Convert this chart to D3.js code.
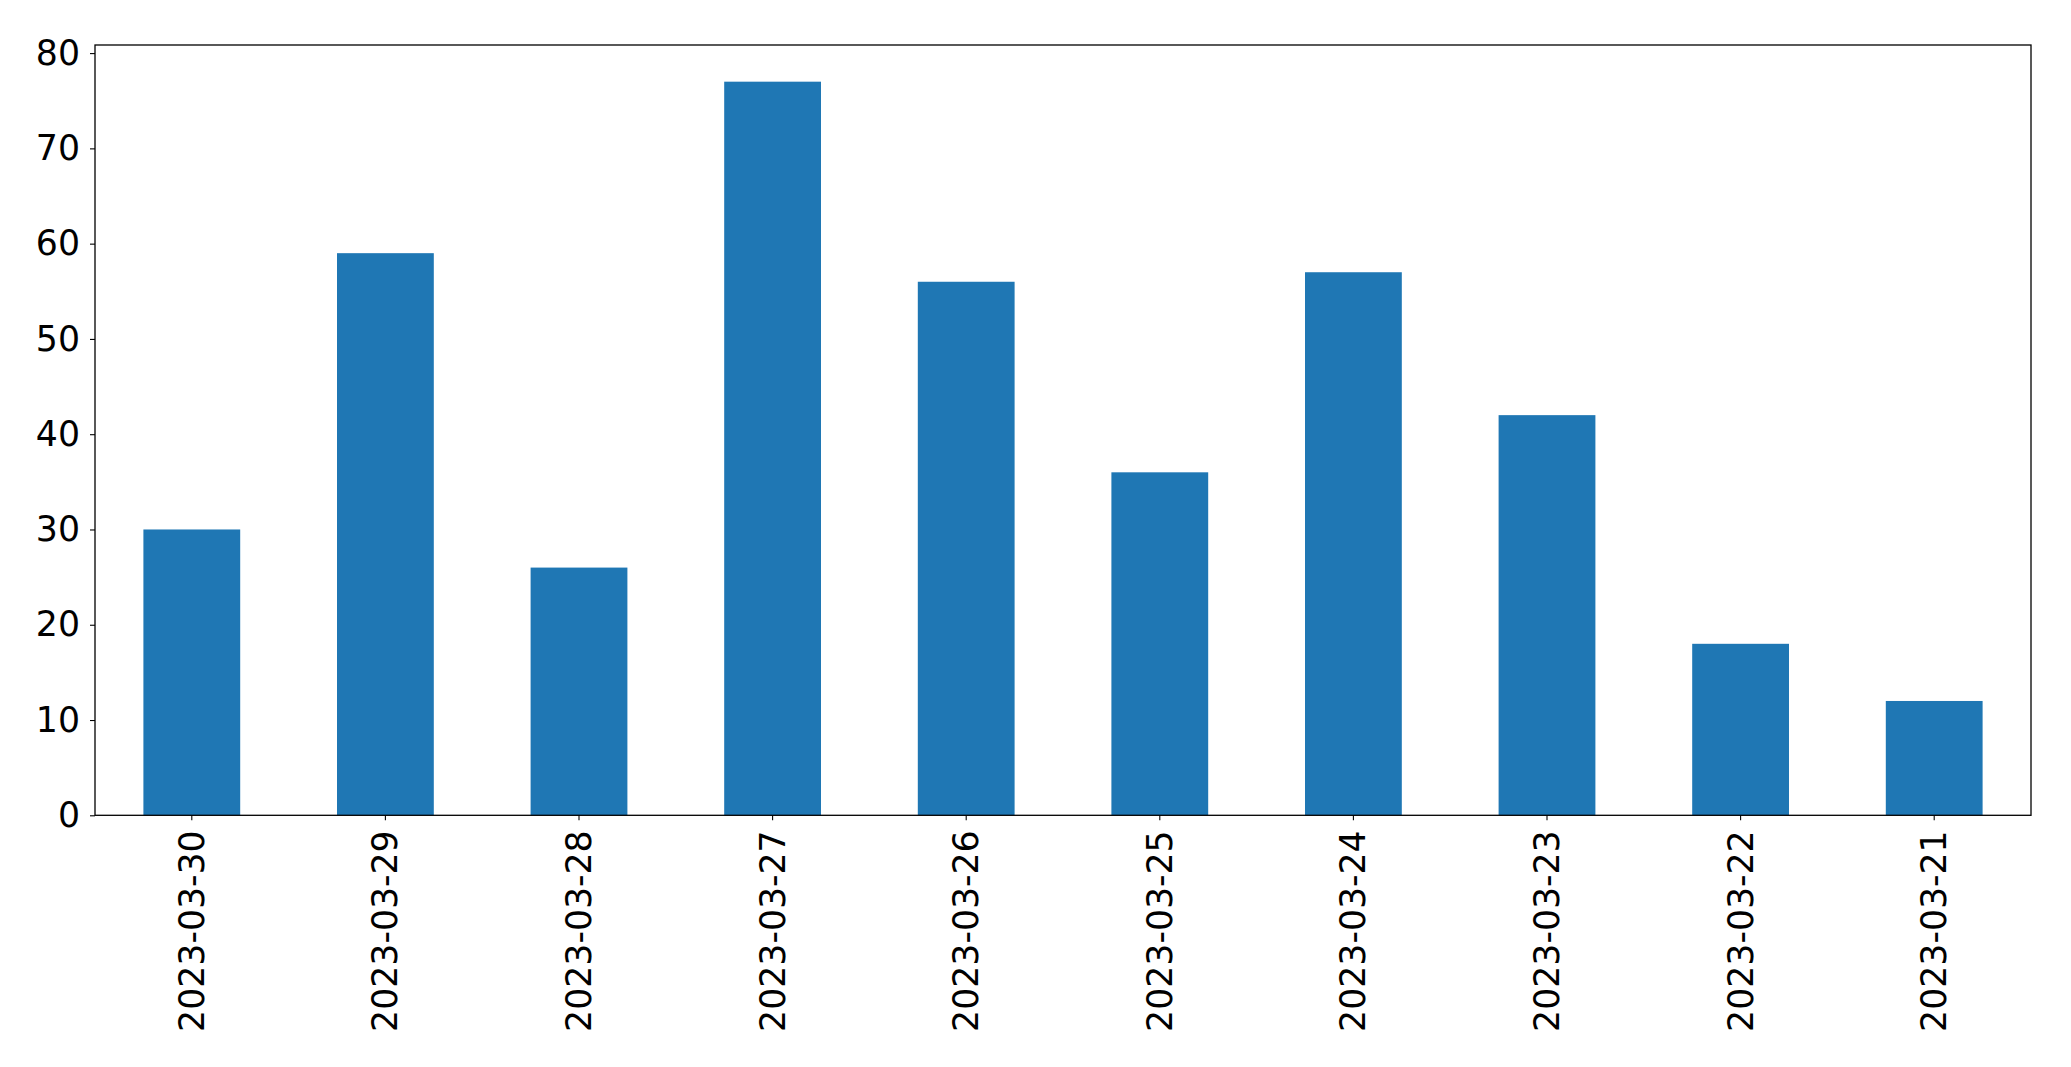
<!DOCTYPE html>
<html>
<head>
<meta charset="utf-8">
<script src="https://cdn.jsdelivr.net/npm/d3@7"></script>
<style>
html, body { margin: 0; padding: 0; background: #fff; }
svg { display: block; }
text { font-family: "DejaVu Sans", sans-serif; fill: #000; }
</style>
</head>
<body>
<svg id="chart" width="2071" height="1067"></svg>
<script>
const categories = ["2023-03-30","2023-03-29","2023-03-28","2023-03-27","2023-03-26","2023-03-25","2023-03-24","2023-03-23","2023-03-22","2023-03-21"];
const values = [30, 59, 26, 77, 56, 36, 57, 42, 18, 12];
const yTicks = [0, 10, 20, 30, 40, 50, 60, 70, 80];

const plotLeft = 95, plotRight = 2031, plotTop = 45, plotBottom = 815.3;
const fontSize = 34.7;

const svg = d3.select("#chart");

const x = d3.scaleBand().domain(categories).range([plotLeft, plotRight]).paddingInner(0.5).paddingOuter(0.25);
const yMax = d3.max(values) * 1.05;
const y = d3.scaleLinear().domain([0, yMax]).range([plotBottom, plotTop]);

svg.append("g").selectAll("rect").data(values).join("rect")
  .attr("x", (d, i) => x(categories[i]))
  .attr("width", x.bandwidth())
  .attr("y", d => y(d))
  .attr("height", d => y(0) - y(d))
  .attr("fill", "#1f77b4");

// y axis
const yAxis = d3.axisLeft(y).tickValues(yTicks).tickSize(5).tickPadding(10).tickFormat(d3.format("d"));
const gy = svg.append("g").attr("transform", `translate(${plotLeft},0)`).call(yAxis);
gy.select(".domain").remove();
gy.selectAll("line").attr("stroke", "#000").attr("stroke-width", 1.1);
gy.selectAll("text").attr("font-size", fontSize).attr("font-family", "DejaVu Sans, sans-serif").attr("fill", "#000");

// x axis
const xAxis = d3.axisBottom(x).tickSize(5).tickPadding(0);
const gx = svg.append("g").attr("transform", `translate(0,${plotBottom})`).call(xAxis);
gx.select(".domain").remove();
gx.selectAll("line").attr("stroke", "#000").attr("stroke-width", 1.1);
gx.selectAll("text")
  .attr("font-size", fontSize)
  .attr("font-family", "DejaVu Sans, sans-serif")
  .attr("fill", "#000")
  .attr("y", 0).attr("dy", null)
  .attr("transform", "translate(0,15) rotate(-90)")
  .attr("text-anchor", "end")
  .attr("dominant-baseline", "central");

// frame
svg.append("rect")
  .attr("x", plotLeft).attr("y", plotTop)
  .attr("width", plotRight - plotLeft).attr("height", plotBottom - plotTop)
  .attr("fill", "none").attr("stroke", "#000").attr("stroke-width", 1.3);
</script>
</body>
</html>
